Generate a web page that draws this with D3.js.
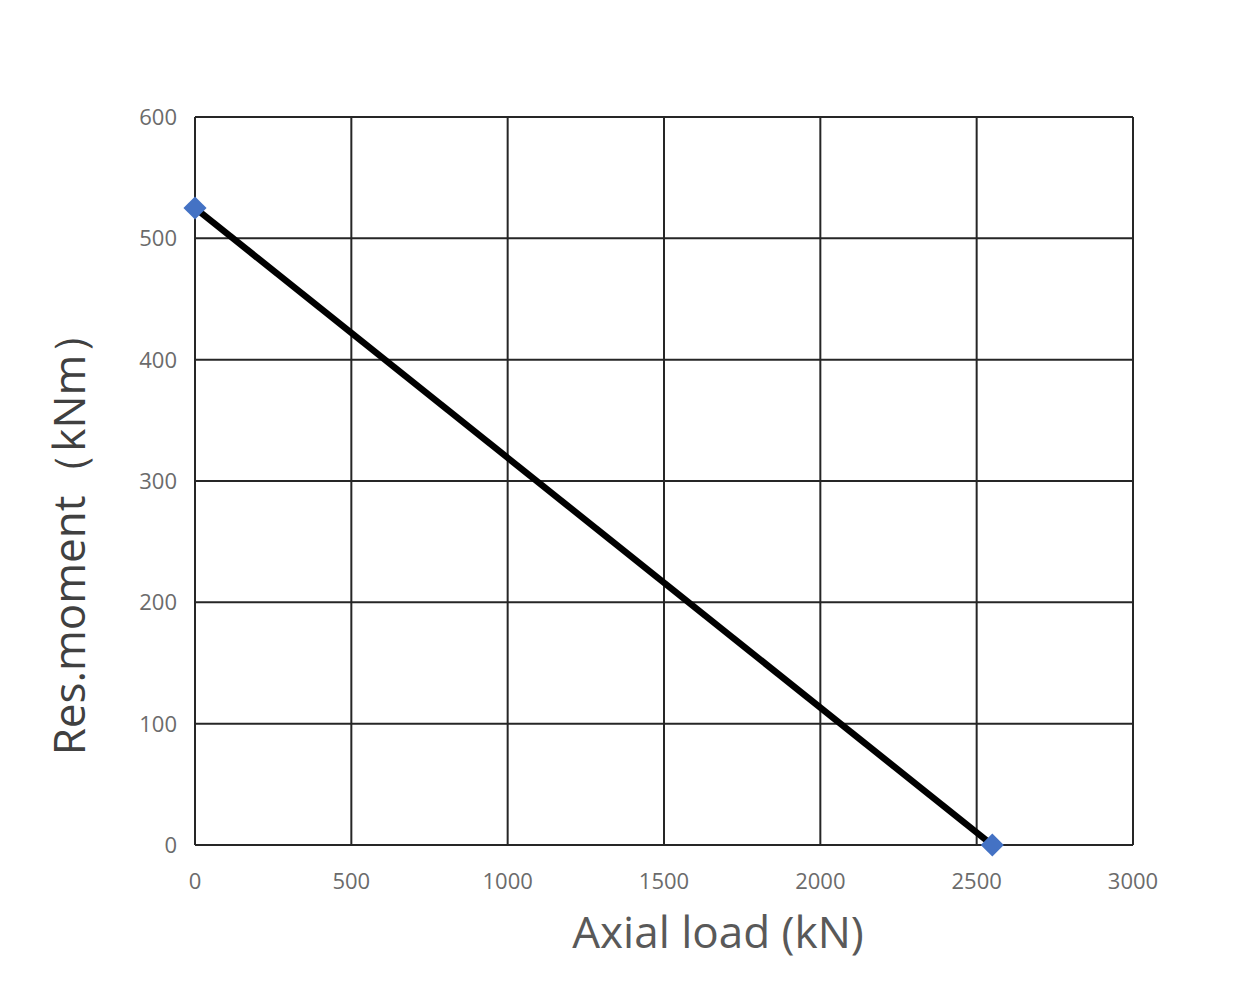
<!DOCTYPE html>
<html><head><meta charset="utf-8">
<script src="https://cdn.jsdelivr.net/npm/d3@7"></script>
<style>body{margin:0;background:#fff;} svg{display:block;}</style>
</head><body>
<svg id="c" width="1260" height="990"></svg>
<script>
const axialLoad = [0, 2550];
const resMoment = [525, 0];
const xTicks = [0, 500, 1000, 1500, 2000, 2500, 3000];
const yTicks = [0, 100, 200, 300, 400, 500, 600];

const svg = d3.select("#c");
const m = {l:195, r:1133, t:117, b:845};
const x = d3.scaleLinear().domain([0,3000]).range([m.l, m.r]);
const y = d3.scaleLinear().domain([0,600]).range([m.b, m.t]);
const font = "'Open Sans', 'Noto Sans', sans-serif";

// grid
svg.append("g").selectAll("line").data(xTicks).join("line")
  .attr("x1", d=>x(d)).attr("x2", d=>x(d)).attr("y1", m.t).attr("y2", m.b)
  .attr("stroke", "#262626").attr("stroke-width", 2);
svg.append("g").selectAll("line").data(yTicks).join("line")
  .attr("x1", m.l).attr("x2", m.r).attr("y1", d=>y(d)).attr("y2", d=>y(d))
  .attr("stroke", "#262626").attr("stroke-width", 2);

// tick labels
svg.append("g").selectAll("text").data(xTicks).join("text")
  .attr("x", d=>x(d)).attr("y", 889).attr("text-anchor","middle")
  .attr("font-family", font).attr("font-size", 22).attr("fill", "#6b6b6b")
  .text(d=>d);
svg.append("g").selectAll("text").data(yTicks).join("text")
  .attr("x", 177).attr("y", d=>y(d)+8).attr("text-anchor","end")
  .attr("font-family", font).attr("font-size", 22).attr("fill", "#6b6b6b")
  .text(d=>d);

// line
const pts = axialLoad.map((v,i)=>[v, resMoment[i]]);
svg.append("path").datum(pts)
  .attr("d", d3.line().x(d=>x(d[0])).y(d=>y(d[1])))
  .attr("fill","none").attr("stroke","#000").attr("stroke-width",6.5);

// markers
svg.append("g").selectAll("path").data(pts).join("path")
  .attr("d", d3.symbol().type(d3.symbolDiamond2).size(340))
  .attr("transform", d=>`translate(${x(d[0])},${y(d[1])})`)
  .attr("fill", "#4472c4");

// titles
svg.append("text").attr("x", 718).attr("y", 948).attr("text-anchor","middle")
  .attr("font-family", font).attr("font-size", 44).attr("fill", "#595959")
  .text("Axial load (kN)");
svg.append("text").attr("transform","translate(85,533) rotate(-90)").attr("text-anchor","middle")
  .attr("font-family", font).attr("font-size", 44).attr("fill", "#404040")
  .text("Res.moment（kNm）");
</script>
</body></html>
